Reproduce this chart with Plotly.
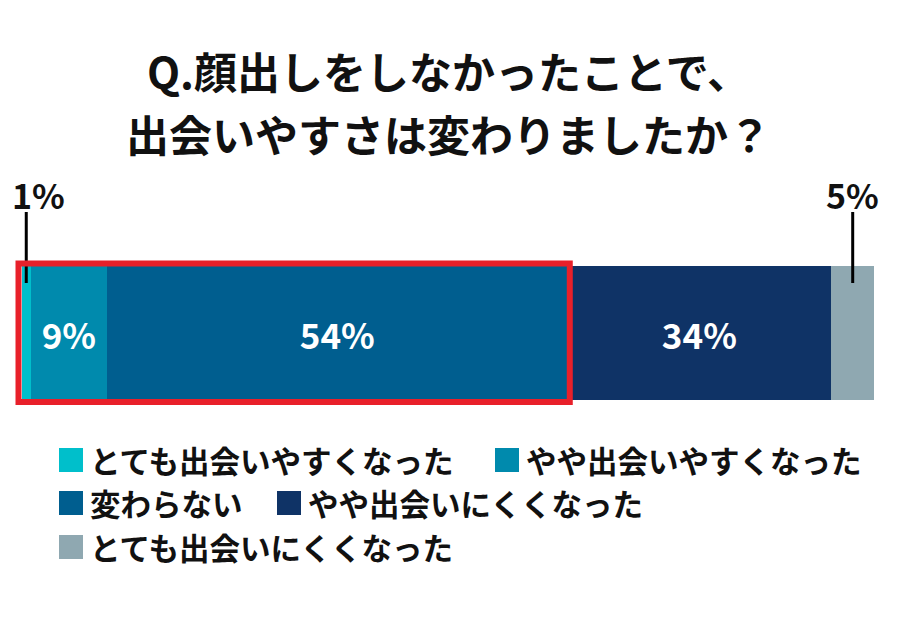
import plotly.graph_objects as go

# data
categories = ["とても出会いやすくなった", "やや出会いやすくなった", "変わらない",
              "やや出会いにくくなった", "とても出会いにくくなった"]
shares = [1, 9, 54, 31, 5]          # drawn segment widths
labels = ["1%", "9%", "54%", "34%", "5%"]  # printed percentages
colors = ["#00BFCB", "#008AAD", "#005E8F", "#0F3366", "#8FA8B1"]
title_lines = ["Q.顔出しをしなかったことで、", "出会いやすさは変わりましたか？"]

FONT = "Noto Sans CJK JP"
OFF = 8  # page body margin
W, H = 900, 637
# plot area in screen pixels: x 22..874, y 266..400
ML, MT = 22 - OFF, 266 - OFF
PW, PH = 852, 134
MR = W - ML - PW
MB = H - MT - PH


def px_x(p):
    return (p - 22) / PW


def px_y(p):
    return (400 - p) / PH


total = sum(shares)
fig = go.Figure()

for i, (name, v) in enumerate(zip(categories, shares)):
    inside = v >= 9
    fig.add_trace(go.Bar(
        x=[v], y=[0], orientation="h", name=name, width=1,
        marker=dict(color=colors[i], line=dict(width=0)),
        text=[f"<b>{labels[i]}</b>"] if inside else None,
        textposition="inside", insidetextanchor="middle", textangle=0,
        textfont=dict(family=FONT, size=35, color="white"),
        hoverinfo="skip", showlegend=False,
    ))

# leader lines + labels for the thin segments
cum = 0
for i, v in enumerate(shares):
    mid = cum + v / 2
    cum += v
    if v >= 9:
        continue
    fig.add_shape(type="line", xref="paper", yref="paper",
                  x0=mid / total, x1=mid / total, y0=px_y(283), y1=px_y(212),
                  line=dict(color="black", width=3))
    fig.add_annotation(x=mid / total, y=px_y(194), xref="paper", yref="paper",
                       text=f"<b>{labels[i]}</b>", showarrow=False,
                       xanchor="center", yanchor="middle",
                       xshift=12 if i == 0 else 0,
                       font=dict(family=FONT, size=34, color="#111"))

# red frame around the first three segments
fig.add_shape(type="rect", xref="paper", yref="paper",
              x0=px_x(18.5), x1=sum(shares[:3]) / total + 2.5 / PW,
              y0=px_y(402), y1=px_y(263.5),
              line=dict(color="#E8202A", width=6), fillcolor="rgba(0,0,0,0)")

# title
for line, py in zip(title_lines, [70, 133]):
    fig.add_annotation(x=px_x(448), y=px_y(py), xref="paper", yref="paper",
                       text=f"<b>{line}</b>", showarrow=False,
                       xanchor="center", yanchor="middle",
                       font=dict(family=FONT, size=43, color="#111"))

# legend
legend_pos = [(59, 460), (495, 460), (59, 503), (277, 503), (59, 547)]
for i, (lx, ly) in enumerate(legend_pos):
    fig.add_shape(type="rect", xref="paper", yref="paper",
                  x0=px_x(lx), x1=px_x(lx + 24), y0=px_y(ly + 12), y1=px_y(ly - 12),
                  fillcolor=colors[i], line=dict(width=0))
    fig.add_annotation(x=px_x(lx + 29), y=px_y(ly), xref="paper", yref="paper",
                       text=f"<b>{categories[i]}</b>", showarrow=False,
                       xanchor="left", yanchor="middle",
                       font=dict(family=FONT, size=30.5, color="#111"))

fig.update_layout(
    width=W - OFF, height=H - OFF, barmode="stack",
    margin=dict(l=ML, r=MR - OFF, t=MT, b=MB - OFF),
    xaxis=dict(range=[0, total], visible=False, fixedrange=True),
    yaxis=dict(range=[-0.5, 0.5], visible=False, fixedrange=True),
    plot_bgcolor="white", paper_bgcolor="white",
    font=dict(family=FONT),
)

fig.write_html("out.html")
